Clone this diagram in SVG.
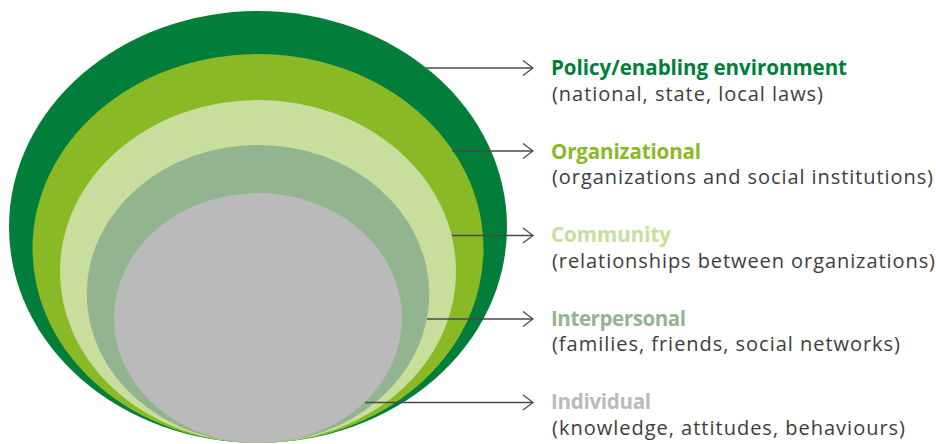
<svg xmlns="http://www.w3.org/2000/svg" width="936" height="444" viewBox="0 0 936 444">
<style>
.t{font-family:"Open Sans","Liberation Sans",Arial,sans-serif;font-weight:bold;font-size:20.5px}
.s{font-family:"Open Sans","Liberation Sans",Arial,sans-serif;font-size:20px;fill:#3d3d3d}
.c{stroke:#4a4a4a;stroke-width:1.3;fill:none}
</style>
<defs>
<marker id="ah" markerWidth="12" markerHeight="18" refX="11" refY="9" orient="auto" markerUnits="userSpaceOnUse">
<path d="M1,1.5 L11,9 L1,16.5" fill="none" stroke="#4a4a4a" stroke-width="1.3"/>
</marker>
</defs>
<rect width="936" height="444" fill="#ffffff"/>
<g id="policy"><ellipse cx="258" cy="227" rx="249" ry="216" fill="#007e3a"/></g>
<g id="organizational"><ellipse cx="258" cy="248.5" rx="225.5" ry="194.5" fill="#89b925"/></g>
<g id="community"><ellipse cx="258" cy="271.5" rx="198" ry="171.5" fill="#c9dd9c"/></g>
<g id="interpersonal"><ellipse cx="258" cy="294" rx="171.3" ry="149" fill="#92b590"/></g>
<g id="individual"><ellipse cx="258" cy="318" rx="144" ry="125" fill="#bababa"/></g>
<g id="connectors">
<line class="c" x1="426" y1="68" x2="533" y2="68" marker-end="url(#ah)"/>
<line class="c" x1="452" y1="151" x2="533" y2="151" marker-end="url(#ah)"/>
<line class="c" x1="452" y1="235.5" x2="533" y2="235.5" marker-end="url(#ah)"/>
<line class="c" x1="427" y1="319" x2="533" y2="319" marker-end="url(#ah)"/>
<line class="c" x1="365" y1="402.5" x2="533" y2="402.5" marker-end="url(#ah)"/>
</g>
<g id="label-policy">
<text class="t" x="551" y="75" fill="#007e3a" textLength="296" lengthAdjust="spacing">Policy/enabling environment</text>
<text class="s" x="552" y="100.5" textLength="271" lengthAdjust="spacing">(national, state, local laws)</text>
</g>
<g id="label-organizational">
<text class="t" x="551" y="158.5" fill="#89b925" textLength="150" lengthAdjust="spacing">Organizational</text>
<text class="s" x="552" y="184" textLength="381" lengthAdjust="spacing">(organizations and social institutions)</text>
</g>
<g id="label-community">
<text class="t" x="551" y="242" fill="#c9dd9c" textLength="120" lengthAdjust="spacing">Community</text>
<text class="s" x="552" y="267.5" textLength="383" lengthAdjust="spacing">(relationships between organizations)</text>
</g>
<g id="label-interpersonal">
<text class="t" x="551" y="325.5" fill="#92b590" textLength="135" lengthAdjust="spacing">Interpersonal</text>
<text class="s" x="552" y="351" textLength="348" lengthAdjust="spacing">(families, friends, social networks)</text>
</g>
<g id="label-individual">
<text class="t" x="551" y="409" fill="#bababa" textLength="100" lengthAdjust="spacing">Individual</text>
<text class="s" x="552" y="434.5" textLength="353" lengthAdjust="spacing">(knowledge, attitudes, behaviours)</text>
</g>
</svg>
